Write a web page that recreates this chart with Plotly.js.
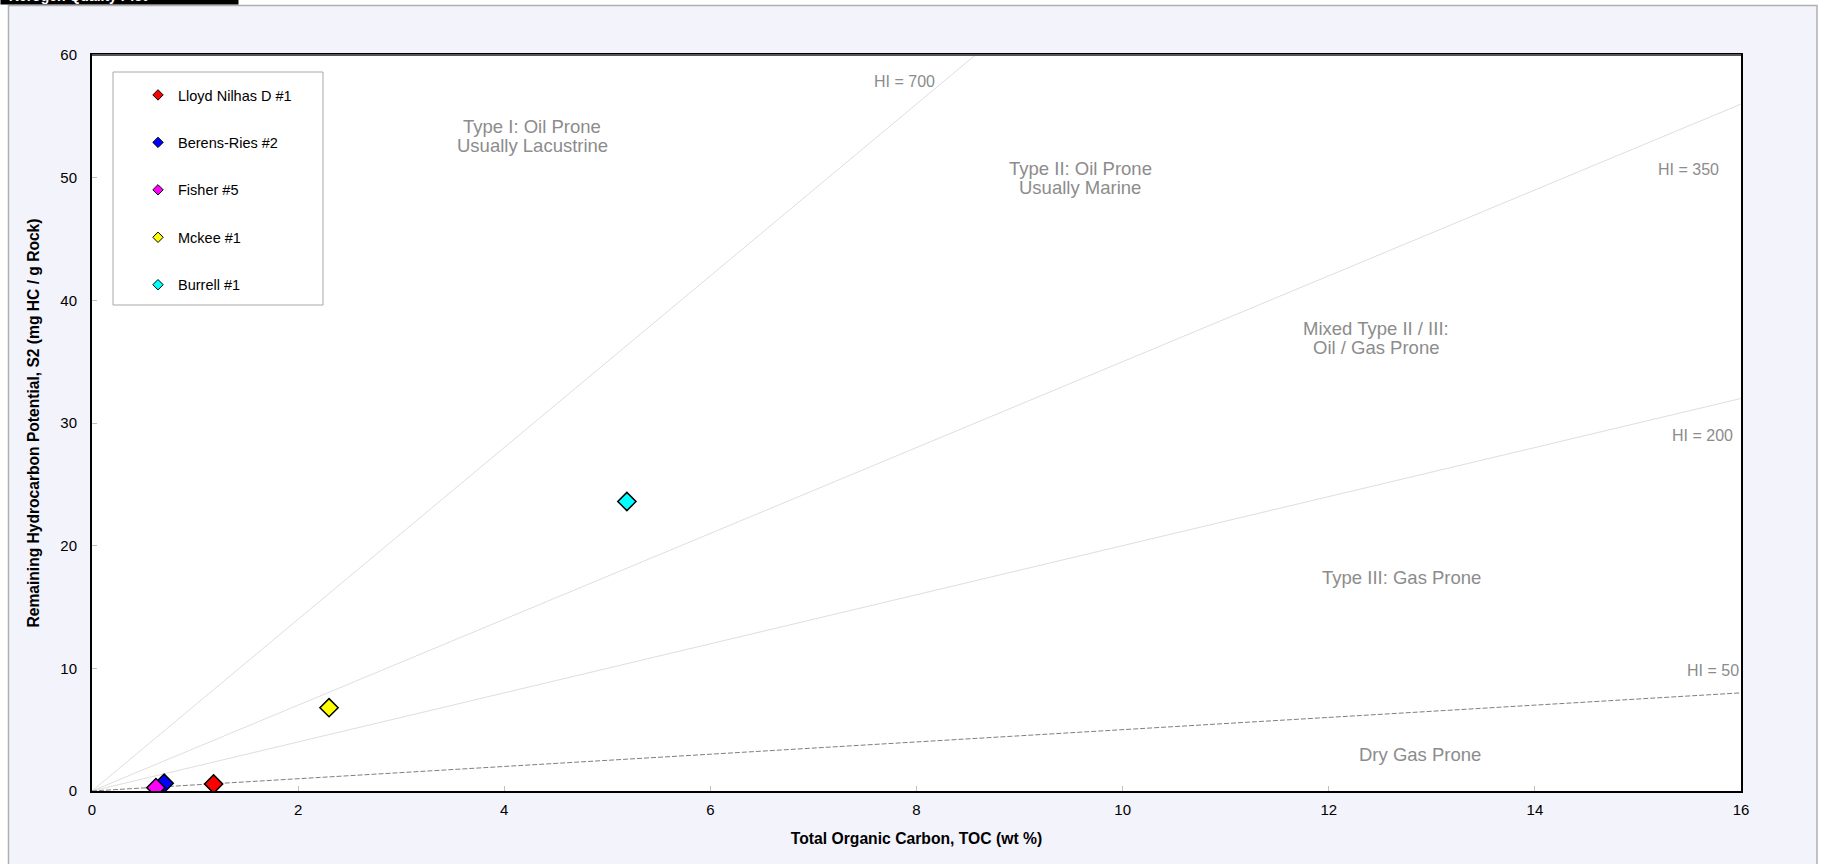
<!DOCTYPE html>
<html>
<head>
<meta charset="utf-8">
<script src="https://cdn.plot.ly/plotly-3.0.1.min.js"></script>
<style>html,body{margin:0;padding:0;background:#fff;}#chart{width:1822px;height:864px;}</style>
</head>
<body>
<div id="chart"></div>
<script>
// ---- data ----
const wells = ["Lloyd Nilhas D #1", "Berens-Ries #2", "Fisher #5", "Mckee #1", "Burrell #1"];
const wellColors = ["#ff0000", "#0000ff", "#ff00ff", "#ffff00", "#00ffff"];
const tocValues = [1.18, 0.70, 0.62, 2.30, 5.19];
const s2Values = [0.57, 0.63, 0.27, 6.79, 23.6];

const hiValues = [700, 350, 200, 50];
const hiLabelX = [7.88, 15.49, 15.63, 15.73];
const hiLabelY = [57.85, 50.68, 28.96, 9.81];
const tocRange = [0, 16];

const regionLabels = ["Type I: Oil Prone<br>Usually Lacustrine", "Type II: Oil Prone<br>Usually Marine",
  "Mixed Type II / III:<br>Oil / Gas Prone", "Type III: Gas Prone", "Dry Gas Prone"];
const regionX = [4.27, 9.59, 12.46, 12.71, 12.89];
const regionY = [53.4, 49.95, 36.95, 17.4, 3.0];

const chartTitle = "Kerogen Quality Plot";
const xTitle = "Total Organic Carbon, TOC (wt %)";
const yTitle = "Remaining Hydrocarbon Potential, S2 (mg HC / g Rock)";

// ---- geometry helpers (pixel -> paper) ----
const W = 1822, H = 864, mL = 92, mR = 81, mT = 55, mB = 73;
const pw = W - mL - mR, ph = H - mT - mB;
const px = x => (x - mL) / pw;
const py = y => (H - mB - y) / ph;
const FONT = "Liberation Sans, Arial, sans-serif";

const traces = [];
hiValues.forEach((hi, i) => {
  const isLow = hi === 50;
  traces.push({
    type: "scatter", mode: "lines",
    x: tocRange, y: tocRange.map(t => t * hi / 100),
    line: {color: isLow ? "#808080" : "#dadada", width: isLow ? 1 : 0.9, dash: isLow ? "5px,2px" : "solid"},
    hoverinfo: "skip", showlegend: false
  });
});
wells.forEach((w, i) => {
  traces.push({
    type: "scatter", mode: "markers", name: w,
    x: [tocValues[i]], y: [s2Values[i]],
    marker: {symbol: "diamond", size: 14, color: wellColors[i], line: {color: "#000", width: 1.5}},
    showlegend: false
  });
});
wells.forEach((w, i) => {
  traces.push({
    type: "scatter", mode: "markers", name: w, legendgroup: "g" + i,
    x: [null], y: [null],
    marker: {symbol: "diamond", size: 8, color: wellColors[i], line: {color: "#000", width: 1}},
    showlegend: true
  });
});

const annotations = [];
const lineGap = 18.6;
regionLabels.forEach((t, i) => {
  const lines = t.split("<br>");
  lines.forEach((ln, k) => annotations.push({
    x: regionX[i], y: regionY[i], xref: "x", yref: "y", text: ln, showarrow: false,
    yshift: ((lines.length - 1) / 2 - k) * lineGap,
    font: {family: FONT, size: 18.5, color: "#8c8c8c"}, align: "center"
  }));
});
hiValues.forEach((hi, i) => annotations.push({
  x: hiLabelX[i], y: hiLabelY[i], xref: "x", yref: "y", text: "HI = " + hi, showarrow: false,
  font: {family: FONT, size: 16, color: "#8c8c8c"}
}));
annotations.push({
  x: px(0), y: py(5), xref: "paper", yref: "paper", xanchor: "left", yanchor: "bottom",
  text: "&nbsp;&nbsp;" + chartTitle, showarrow: false, bgcolor: "#000", width: 237, align: "left",
  borderpad: 0, font: {family: FONT, size: 14, color: "#fff", weight: "bold"}
});

const shapes = [
  {type: "rect", xref: "paper", yref: "paper", x0: px(-5), x1: px(W + 5), y0: py(-10), y1: py(5), fillcolor: "#fff", line: {width: 0}, layer: "below"},
  {type: "rect", xref: "paper", yref: "paper", x0: px(-5), x1: px(8), y0: py(H + 10), y1: py(-10), fillcolor: "#fff", line: {width: 0}, layer: "below"},
  {type: "rect", xref: "paper", yref: "paper", x0: px(1817), x1: px(W + 5), y0: py(H + 10), y1: py(-10), fillcolor: "#fff", line: {width: 0}, layer: "below"},
  {type: "rect", xref: "paper", yref: "paper", x0: px(8.5), x1: px(1817), y0: py(H + 10), y1: py(5.5), fillcolor: "rgba(0,0,0,0)", line: {color: "#b0b0b0", width: 1.5}, layer: "below"},
  {type: "rect", xref: "paper", yref: "paper", x0: px(113), x1: px(323), y0: py(305), y1: py(72), fillcolor: "#fff", line: {color: "#a8a8a8", width: 1}, layer: "below"},
  {type: "line", xref: "paper", yref: "paper", x0: 0, x1: 1, y0: 1, y1: 1, line: {color: "#555", width: 2}}
];

const axisFont = {family: FONT, size: 15, color: "#000"};
const layout = {
  width: W, height: H,
  margin: {l: mL, r: mR, t: mT, b: mB, pad: 0},
  paper_bgcolor: "#f3f3fc", plot_bgcolor: "#fff",
  font: {family: FONT, size: 14, color: "#000"},
  showlegend: true,
  legend: {
    x: px(138), y: py(79), xanchor: "left", yanchor: "top",
    bgcolor: "rgba(0,0,0,0)", borderwidth: 0, tracegroupgap: 25.6,
    font: {family: FONT, size: 14.5, color: "#000"}, itemwidth: 30
  },
  xaxis: {
    range: [0, 16], dtick: 2, tick0: 0, showgrid: false, zeroline: false,
    showline: true, linecolor: "#000", linewidth: 2, mirror: true,
    ticks: "inside", ticklen: 5, tickcolor: "#c0c0c0", tickwidth: 1,
    tickfont: axisFont, ticklabelstandoff: 4,
    title: {text: xTitle, font: {family: FONT, size: 15.7, color: "#000", weight: "bold"}, standoff: 16}
  },
  yaxis: {
    range: [0, 60], dtick: 10, tick0: 0, showgrid: false, zeroline: false,
    showline: true, linecolor: "#000", linewidth: 2, mirror: true,
    ticks: "inside", ticklen: 5, tickcolor: "#c0c0c0", tickwidth: 1,
    tickfont: axisFont, ticklabelstandoff: 10,
    title: {text: yTitle, font: {family: FONT, size: 15.6, color: "#000", weight: "bold"}, standoff: 17}
  },
  annotations: annotations,
  shapes: shapes
};

Plotly.newPlot("chart", traces, layout, {displayModeBar: false, staticPlot: true});
</script>
</body>
</html>
